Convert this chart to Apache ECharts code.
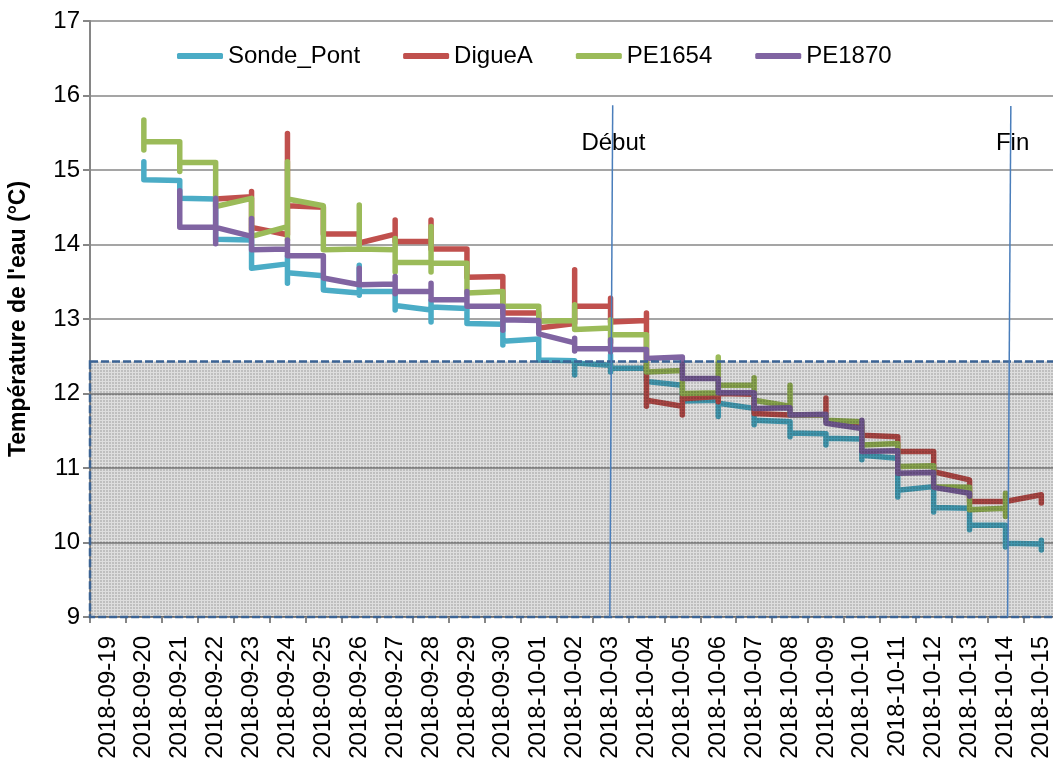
<!DOCTYPE html>
<html>
<head>
<meta charset="utf-8">
<script src="https://cdn.jsdelivr.net/npm/echarts@6/dist/echarts.min.js"></script>
<style>
html,body{margin:0;padding:0;background:#fff;}
#chart{width:1053px;height:761px;}
</style>
</head>
<body>
<div id="chart"></div>
<script>
// ---- category labels (one per day) ----
const dates = ['2018-09-19','2018-09-20','2018-09-21','2018-09-22','2018-09-23','2018-09-24','2018-09-25',
  '2018-09-26','2018-09-27','2018-09-28','2018-09-29','2018-09-30','2018-10-01','2018-10-02','2018-10-03',
  '2018-10-04','2018-10-05','2018-10-06','2018-10-07','2018-10-08','2018-10-09','2018-10-10','2018-10-11',
  '2018-10-12','2018-10-13','2018-10-14','2018-10-15'];

// ---- readings per day (several readings share one date) ----
const sondePont = [null,
  [15.11,14.87],[14.86,14.62],[14.61,14.07],[14.06,13.68,13.70],[13.74,13.84,13.48,13.62],
  [13.58,13.39],[13.35,13.72,13.32,13.37],[13.37,13.39,13.12,13.18],[13.12,13.25,12.96,13.16],
  [13.14,12.94],[12.93,12.99,12.65,12.70],[12.73,12.45],[12.44,12.45,12.25,12.41],
  [12.38,12.52,12.29,12.34],[12.34,12.16,12.18],[12.11,11.90],[11.91,11.69,11.87],
  [11.80,11.58,11.64],[11.62,11.42,11.47],[11.46,11.31,11.40],[11.39,11.11,11.17],
  [11.13,10.61,10.70],[10.75,10.41,10.47],[10.46,10.17,10.23],[10.23,9.94,9.99],[9.98,10.03,9.90]];

const digueA = [null,null,null,
  [14.61],[14.64,14.71,14.19,14.23],[14.13,15.49,14.52],[14.50,14.14],[14.14,14.02],
  [14.14,14.33,14.04],[14.04,14.33,13.94],[13.94,13.56],[13.57,13.58,13.46,13.08],[13.08,12.88],
  [12.94,13.66,13.17],[13.17,13.28,12.96,12.98],[12.98,13.08,11.83,11.91],[11.83,11.71,11.96,11.93],
  [11.96,11.89,12.00,11.99],[11.99,11.73],[11.71],[11.71,11.94,11.64],[11.56,11.44],[11.42,11.22],
  [11.22,10.95],[10.84,10.55],[10.55],[10.64,10.53]];

const pe1654 = [null,
  [15.67,15.27,15.38],[15.38,14.98,15.10],[15.10,14.51],[14.62,14.11,14.13],[14.24,14.06,15.11,14.61],
  [14.52,13.93,13.95],[13.94,14.53,13.94],[13.93,14.08,13.63,13.76],[13.76,14.24,13.63,13.75],
  [13.75,13.35,13.37],[13.37,13.17],[13.17,12.97],[12.98,13.19,12.86,12.88],[12.88,12.99,12.68,12.79],
  [12.79,12.29,12.31],[12.31,12.00,12.01],[12.01,12.49,12.11],[12.11,12.21,11.91,11.92],
  [11.83,12.11,11.71],[11.71,11.64],[11.62,11.64,11.31,11.33],[11.33,11.02,11.03],[11.03,10.75],
  [10.74,10.44,10.45],[10.46,10.66,10.35],null];

const pe1870 = [null,null,
  [14.72,14.23],[14.23,14.62,14.01,14.23],[14.11,14.35,13.93,13.95],[13.94,14.06,13.85],
  [13.85,13.55],[13.46,13.68,13.46],[13.47,13.57,13.34,13.37],[13.37,13.48,13.26],
  [13.26,13.37,13.17],[13.17,12.85,12.99],[12.98,12.80],[12.68,12.74,12.57,12.60],
  [12.60,12.72,12.56,12.59],[12.59,12.47,12.49],[12.49,12.20],[12.20,12.01],[12.01,11.80,11.81],
  [11.81,11.71,11.72],[11.72,11.60,11.61],[11.53,11.64,11.22,11.23],[11.23,10.93,10.94],
  [10.94,10.74],[10.66,10.62],null,null];

const seriesNames = ['Sonde_Pont','DigueA','PE1654','PE1870'];
const seriesColors = ['#4BACC6','#C0504D','#9BBB59','#8064A2'];
const yTicks = [9,10,11,12,13,14,15,16,17];

// shaded band [x from, y from, x to, y to] in day units / °C
const shadedBand = [0, 9, 27, 12.43];

// vertical markers (day units, °C)
const markerNames = ['Début','Fin'];
const markerTop = [[14.56,15.87],[25.65,15.86]];
const markerBottom = [[14.48,9],[25.56,9]];
const markerText = [[14.58,15.36],[25.70,15.36]];

// ---- build ----
function toPoints(days){
  const pts = [];
  days.forEach((vals,i)=>{ if(!vals) return; vals.forEach(v=>pts.push([i+0.5, v])); });
  return pts;
}
function makePattern(){
  const c = document.createElement('canvas'); c.width = 3; c.height = 3;
  const ctx = c.getContext('2d');
  ctx.fillStyle = 'rgba(0,0,0,0.25)'; ctx.fillRect(0,0,3,3);
  ctx.clearRect(0,0,3,1); ctx.clearRect(0,0,1,3);
  ctx.fillStyle = 'rgba(0,0,0,0.13)'; ctx.fillRect(0,0,3,1); ctx.fillRect(0,1,1,2);
  return c;
}
const pattern = makePattern();
const FONT = 'Liberation Sans, Arial, sans-serif';

const allDays = [sondePont, digueA, pe1654, pe1870];
const series = allDays.map((d,k)=>({
  name: seriesNames[k], type:'line', xAxisIndex:1, yAxisIndex:0,
  data: toPoints(d), symbol:'none', showSymbol:false, z: 2+k*0.01,
  color: seriesColors[k],
  lineStyle:{width:5.5, color: seriesColors[k], cap:'round', join:'round'},
  animation:false
}));

series.push({
  type:'custom', xAxisIndex:1, yAxisIndex:0, z:5, silent:true,
  data:[shadedBand], encode:{x:[0,2], y:[1,3]},
  renderItem:(params, api)=>{
    const p0 = api.coord([api.value(0), api.value(3)]);
    const p1 = api.coord([api.value(2), api.value(1)]);
    return {type:'rect', shape:{x:p0[0], y:p0[1], width:p1[0]-p0[0], height:p1[1]-p0[1]},
      style:{fill:{image:pattern, repeat:'repeat'}, stroke:'#3b6394', lineWidth:2.5, lineDash:[8,3]}};
  },
  animation:false
});

markerNames.forEach((n,i)=>{
  series.push({type:'line', xAxisIndex:1, yAxisIndex:0, z:6, silent:true, symbol:'none',
    data:[markerTop[i], markerBottom[i]], lineStyle:{width:1.5, color:'#4a7ebb'}, animation:false});
});
series.push({type:'scatter', xAxisIndex:1, yAxisIndex:0, z:7, silent:true,
  symbol:'circle', symbolSize:1, itemStyle:{color:'rgba(0,0,0,0)', opacity:1},
  data: markerNames.map((n,i)=>({name:n, value:markerText[i]})),
  label:{show:true, position:'inside', formatter:'{b}', fontSize:24, color:'#000', opacity:1,
    textBorderWidth:0, fontFamily:FONT},
  animation:false});

const chart = echarts.init(document.getElementById('chart'));
chart.setOption({
  backgroundColor:'#fff',
  animation:false,
  grid:{left:90, top:21, width:969.3, height:596, containLabel:false, outerBoundsMode:'none'},
  legend:{data:seriesNames, left:172, top:39, itemWidth:46, itemHeight:6, itemGap:43, icon:'roundRect',
    textStyle:{fontSize:24, color:'#000', fontFamily:FONT}},
  xAxis:[
    {type:'category', data:dates, boundaryGap:true, gridIndex:0,
      axisLine:{lineStyle:{color:'#868686', width:2}},
      axisTick:{show:true, alignWithLabel:false, interval:0, length:6, lineStyle:{color:'#868686', width:2}},
      axisLabel:{interval:0, rotate:90, margin:19, fontSize:24, color:'#000', fontFamily:FONT},
      splitLine:{show:false}},
    {type:'value', min:0, max:27, show:false, gridIndex:0}
  ],
  yAxis:[{type:'value', min:yTicks[0], max:yTicks[yTicks.length-1], interval:1,
    name:'Température de l\'eau (°C)', nameLocation:'middle', nameGap:60, nameRotate:90,
    nameTextStyle:{fontSize:23, fontWeight:'bold', color:'#000', fontFamily:FONT},
    axisLine:{show:true, lineStyle:{color:'#868686', width:2}},
    axisTick:{show:true, length:7, lineStyle:{color:'#868686', width:2}},
    axisLabel:{fontSize:24, color:'#000', margin:10, fontFamily:FONT},
    splitLine:{show:true, lineStyle:{color:'#a5a5a5', width:2}}}],
  series: series
});
</script>
</body>
</html>
